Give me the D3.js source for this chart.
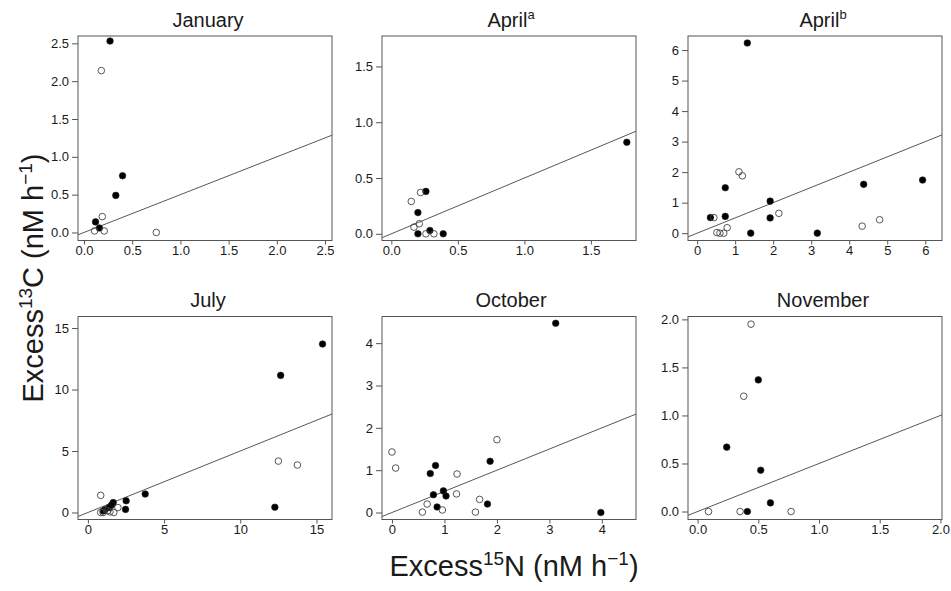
<!DOCTYPE html>
<html>
<head>
<meta charset="utf-8">
<script src="https://cdn.jsdelivr.net/npm/d3@7"></script>
<style>
  html, body { margin: 0; padding: 0; background: #fff; }
  svg { display: block; font-family: "Liberation Sans", Arial, Helvetica, sans-serif; }
</style>
</head>
<body>
<svg id="chart" width="951" height="591"></svg>
<script>
// Panel titles (month of sampling) and their superscript notes
const panelNames = ["January", "April", "April", "July", "October", "November"];
const panelNotes = ["", "a", "b", "", "", ""];

// Excess 15N (x) vs excess 13C (y), nM h^-1; filled and open symbols per panel
const janFilled = [[0.27, 2.53], [0.40, 0.75], [0.33, 0.49], [0.12, 0.14], [0.16, 0.06]];
const janOpen   = [[0.18, 2.14], [0.19, 0.21], [0.11, 0.02], [0.21, 0.02], [0.75, 0.0]];

const aprAFilled = [[1.77, 0.82], [0.26, 0.38], [0.20, 0.19], [0.20, 0.0], [0.29, 0.03], [0.39, 0.0]];
const aprAOpen   = [[0.15, 0.29], [0.22, 0.37], [0.21, 0.09], [0.17, 0.06], [0.26, 0.0], [0.32, 0.0]];

const aprBFilled = [[1.32, 6.23], [0.74, 1.49], [0.74, 0.55], [0.35, 0.51], [1.41, 0.0],
                    [1.92, 1.05], [1.92, 0.50], [3.16, 0.0], [4.38, 1.60], [5.93, 1.74]];
const aprBOpen   = [[0.44, 0.51], [1.10, 2.01], [1.19, 1.88], [0.52, 0.02], [0.60, 0.0],
                    [0.70, 0.0], [0.79, 0.18], [2.15, 0.65], [4.34, 0.23], [4.80, 0.44]];

const julFilled = [[15.4, 13.7], [12.65, 11.15], [12.27, 0.43], [3.76, 1.50], [2.51, 0.95],
                   [2.47, 0.25], [1.66, 0.81], [1.55, 0.60], [1.40, 0.40], [1.12, 0.22], [1.00, 0.12]];
const julOpen   = [[0.84, 1.39], [12.5, 4.18], [13.75, 3.86], [0.84, 0.0], [1.00, 0.0],
                   [1.45, 0.05], [1.70, 0.0], [1.97, 0.40], [1.30, 0.15]];

const octFilled = [[3.12, 4.47], [3.98, 0.0], [1.87, 1.21], [1.82, 0.20], [0.83, 1.11],
                   [0.73, 0.92], [0.79, 0.42], [0.98, 0.51], [1.03, 0.39], [0.86, 0.13]];
const octOpen   = [[0.00, 1.43], [0.07, 1.05], [2.00, 1.72], [1.24, 0.91], [1.23, 0.44],
                   [1.67, 0.31], [0.67, 0.20], [0.58, 0.01], [0.96, 0.06], [1.59, 0.01]];

const novFilled = [[0.50, 1.37], [0.24, 0.67], [0.52, 0.43], [0.60, 0.09], [0.41, 0.0]];
const novOpen   = [[0.44, 1.95], [0.38, 1.20], [0.09, 0.0], [0.35, 0.0], [0.77, 0.0]];

const filledSets = [janFilled, aprAFilled, aprBFilled, julFilled, octFilled, novFilled];
const openSets   = [janOpen, aprAOpen, aprBOpen, julOpen, octOpen, novOpen];

// Axis extents and tick labels per panel
const xDomains = [[-0.062, 2.572], [-0.07, 1.839], [-0.24, 6.44], [-0.65, 16.02], [-0.19, 4.65], [-0.079, 2.013]];
const yDomains = [[-0.106, 2.597], [-0.06, 1.773], [-0.24, 6.46], [-0.57, 15.94], [-0.165, 4.63], [-0.083, 2.03]];
const xTickValues = [[0, 0.5, 1, 1.5, 2, 2.5], [0, 0.5, 1, 1.5], [0, 1, 2, 3, 4, 5, 6],
                     [0, 5, 10, 15], [0, 1, 2, 3, 4], [0, 0.5, 1, 1.5, 2]];
const yTickValues = [[0, 0.5, 1, 1.5, 2, 2.5], [0, 0.5, 1, 1.5], [0, 1, 2, 3, 4, 5, 6],
                     [0, 5, 10, 15], [0, 1, 2, 3, 4], [0, 0.5, 1, 1.5, 2]];
const tickDecimals = [1, 1, 0, 0, 0, 1];

// Reference uptake ratio drawn as a line through the origin (13C = 0.5 x 15N)
const refSlope = 0.5;

// ---- layout ----
const svg = d3.select("#chart");
const colLeft = [78, 382, 688];
const colWidth = 254;
const rowTop = [36, 316.5];
const rowHeight = [204.5, 203];
const titleShift = [3, 2, 8];

const frameColor = "#555";
const textColor = "#1a1a1a";

panelNames.forEach((name, i) => {
  const col = i % 3, row = Math.floor(i / 3);
  const left = colLeft[col], top = rowTop[row];
  const w = colWidth, h = rowHeight[row];

  const x = d3.scaleLinear().domain(xDomains[i]).range([left, left + w]);
  const y = d3.scaleLinear().domain(yDomains[i]).range([top + h, top]);
  const fmt = d3.format("." + tickDecimals[i] + "f");

  const g = svg.append("g").attr("class", "panel");

  const clipId = "clip" + i;
  svg.append("clipPath").attr("id", clipId)
    .append("rect").attr("x", left).attr("y", top).attr("width", w).attr("height", h);

  // reference line
  const xd = xDomains[i];
  g.append("path")
    .attr("clip-path", `url(#${clipId})`)
    .attr("d", d3.line().x(d => x(d)).y(d => y(refSlope * d))(xd))
    .attr("fill", "none")
    .attr("stroke", "#444")
    .attr("stroke-width", 0.9);

  // filled symbols
  g.append("g").selectAll("circle")
    .data(filledSets[i]).join("circle")
    .attr("cx", d => x(d[0])).attr("cy", d => y(d[1]))
    .attr("r", 3.3)
    .attr("fill", "#000").attr("stroke", "#222").attr("stroke-width", 0.6);

  // open symbols
  g.append("g").selectAll("circle")
    .data(openSets[i]).join("circle")
    .attr("cx", d => x(d[0])).attr("cy", d => y(d[1]))
    .attr("r", 3.3)
    .attr("fill", "none").attr("stroke", "#444").attr("stroke-width", 0.9);

  // axes
  const xAxis = g.append("g")
    .attr("transform", `translate(0,${top + h})`)
    .call(d3.axisBottom(x).tickValues(xTickValues[i]).tickFormat(fmt).tickSize(4).tickSizeOuter(0).tickPadding(1.5));
  const yAxis = g.append("g")
    .attr("transform", `translate(${left},0)`)
    .call(d3.axisLeft(y).tickValues(yTickValues[i]).tickFormat(fmt).tickSize(6).tickSizeOuter(0).tickPadding(3));
  [xAxis, yAxis].forEach(a => {
    a.select(".domain").remove();
    a.selectAll(".tick line").attr("stroke", frameColor);
    a.selectAll(".tick text").attr("fill", textColor)
      .style("font-family", '"Liberation Sans", Arial, sans-serif').style("font-size", "13px");
  });

  // frame
  g.append("rect")
    .attr("x", left).attr("y", top).attr("width", w).attr("height", h)
    .attr("fill", "none").attr("stroke", frameColor).attr("stroke-width", 1);

  // title
  const t = g.append("text")
    .attr("x", left + w / 2 + titleShift[col]).attr("y", top - 9.5)
    .attr("text-anchor", "middle")
    .attr("fill", textColor)
    .style("font-size", "20px");
  t.append("tspan").text(name);
  if (panelNotes[i]) {
    t.append("tspan").attr("dy", -8).style("font-size", "13px").text(panelNotes[i]);
  }
});

// shared axis titles
function labelWithUnits(sel, iso, el) {
  sel.append("tspan").text("Excess");
  sel.append("tspan").attr("dy", -11).style("font-size", "19px").text(iso);
  sel.append("tspan").attr("dy", 11).text(el + " (nM h");
  sel.append("tspan").attr("dy", -11).style("font-size", "19px").text("\u22121");
  sel.append("tspan").attr("dy", 11).text(")");
}

const xLabel = svg.append("text")
  .attr("x", 514).attr("y", 576)
  .attr("text-anchor", "middle")
  .attr("fill", textColor)
  .style("font-size", "29px");
labelWithUnits(xLabel, "15", "N");

const yLabel = svg.append("text")
  .attr("transform", "translate(43,278) rotate(-90)")
  .attr("text-anchor", "middle")
  .attr("fill", textColor)
  .style("font-size", "29px");
labelWithUnits(yLabel, "13", "C");
</script>
</body>
</html>
